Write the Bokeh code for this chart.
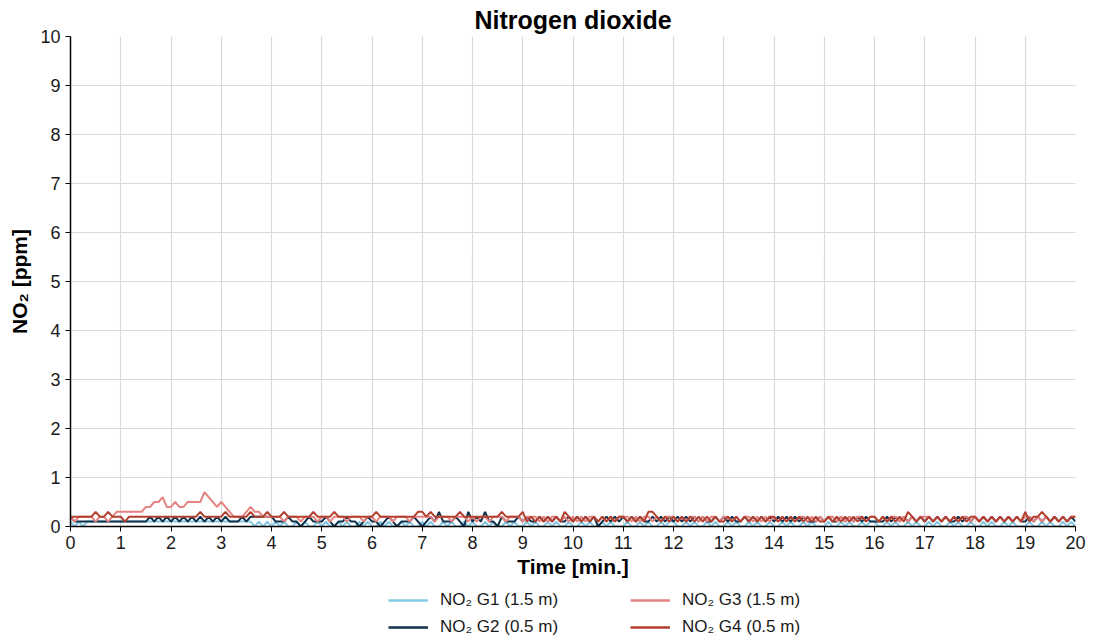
from bokeh.plotting import figure
from bokeh.models import Legend, LegendItem, FixedTicker, Range1d
from bokeh.layouts import column
from bokeh.embed import file_html
from bokeh.resources import INLINE

# sample step in minutes (5 s), values in tenths of ppm, one digit per sample
step_min = 5 / 60

g1_digits = ("101011111111" "111111111111" "111111111111" "111111110101"
             "010100101001" "010010100101" "001010010100" "101001010010"
             "100101001010" "010100101001" "001010010100" "010010100101"
             "100101001010" "010100101001" "001010010100" "010010100101"
             "100101001010" "010100101001" "001010010100" "010010100101" "0")
g2_digits = ("211111111111" "111111121212" "121212121212" "121112122222"
             "211121101211" "121011211012" "110121011121" "012131112103"
             "121311021112" "121121212112" "121212012121" "212121121212"
             "121212121121" "212112121212" "121212121112" "121121212121"
             "111212121212" "121212112121" "212121212121" "121212121212" "1")
g3_digits = ("212222122123" "333333445564" "454455557654" "543222343322"
             "222122212221" "221222122212" "212221222122" "222122212221"
             "212212221222" "122212122121" "212122121212" "221212212122"
             "212122121221" "221212212121" "212121221212" "122121212212"
             "212122121212" "221212121221" "212121212121" "221212121212" "2")
g4_digits = ("222222322322" "212222222222" "222222232222" "232222232223"
             "222322222232" "222322222222" "232222222223" "323222222322"
             "222222232222" "312121212132" "121212121212" "212121332121"
             "212121212121" "121212121212" "212121212121" "121212121212"
             "212121213212" "121212121212" "212121212121" "312232121212" "2")

labels = ["NO\u2082 G1 (1.5 m)", "NO\u2082 G2 (0.5 m)",
          "NO\u2082 G3 (1.5 m)", "NO\u2082 G4 (0.5 m)"]
colors = ["#86C9E6", "#10304B", "#E58383", "#B3402F"]

x_ticks = list(range(0, 21))
y_ticks = list(range(0, 11))

FONT = "Liberation Sans"

def series(digits):
    xs = [i * step_min for i in range(len(digits))]
    ys = [int(c) / 10 for c in digits]
    return xs, ys

p = figure(width=1098, height=580, output_backend="svg", toolbar_location=None,
           x_range=Range1d(0, 20), y_range=Range1d(0, 10),
           min_border_left=70, min_border_right=23, min_border_top=36,
           min_border_bottom=53)
p.outline_line_color = None

p.title.text = "Nitrogen dioxide"
p.title.align = "center"
p.title.text_font = FONT
p.title.text_font_size = "25px"
p.title.text_font_style = "bold"
p.title.text_color = "#000000"
p.title.standoff = 6

for d, c in zip([g1_digits, g2_digits, g3_digits, g4_digits], colors):
    xs, ys = series(d)
    p.line(xs, ys, line_color=c, line_width=2)

p.xaxis.ticker = FixedTicker(ticks=x_ticks)
p.yaxis.ticker = FixedTicker(ticks=y_ticks)
for ax in (p.xaxis[0], p.yaxis[0]):
    ax.axis_line_color = "#000000"
    ax.axis_line_width = 1.5
    ax.major_tick_line_color = "#000000"
    ax.major_tick_out = 5
    ax.major_tick_in = 0
    ax.minor_tick_line_color = None
    ax.major_label_text_font = FONT
    ax.major_label_text_font_size = "18px"
    ax.major_label_text_color = "#1a1a1a"
    ax.axis_label_text_font = FONT
    ax.axis_label_text_font_size = "21px"
    ax.axis_label_text_font_style = "bold"
    ax.axis_label_text_color = "#000000"
p.xaxis.axis_label = "Time [min.]"
p.yaxis.axis_label = "NO\u2082 [ppm]"
p.xaxis.axis_label_standoff = 3
p.yaxis.axis_label_standoff = 6
p.xaxis.major_label_standoff = 4
p.yaxis.major_label_standoff = 5

p.xgrid.grid_line_color = "#d9d9d9"
p.ygrid.grid_line_color = "#d9d9d9"
p.xgrid.grid_line_width = 1.2
p.ygrid.grid_line_width = 1.2

# legend strip below the chart (lines kept out of view, only their legend glyphs show)
lg = figure(width=1098, height=61, output_backend="svg", toolbar_location=None,
            x_range=Range1d(0, 1), y_range=Range1d(0, 1),
            x_axis_location=None, y_axis_location=None, min_border=0)
lg.outline_line_color = None
lg.grid.visible = False
lrs = [lg.line([-10, -9], [-10, -10], line_color=c, line_width=2.5) for c in colors]

legend_style = dict(label_text_font=FONT, label_text_font_size="17px",
                    label_text_color="#1a1a1a", glyph_width=40, glyph_height=18,
                    spacing=7, label_standoff=12, border_line_color=None,
                    background_fill_alpha=0, margin=0, padding=0,
                    label_height=18)
leg_a = Legend(items=[LegendItem(label=labels[0], renderers=[lrs[0]]),
                      LegendItem(label=labels[1], renderers=[lrs[1]])],
               location=(318, 4), **legend_style)
leg_b = Legend(items=[LegendItem(label=labels[2], renderers=[lrs[2]]),
                      LegendItem(label=labels[3], renderers=[lrs[3]])],
               location=(560, 4), **legend_style)
lg.add_layout(leg_a)
lg.add_layout(leg_b)

layout = column(p, lg, spacing=0)
open("out.html", "w").write(file_html(layout, INLINE))
